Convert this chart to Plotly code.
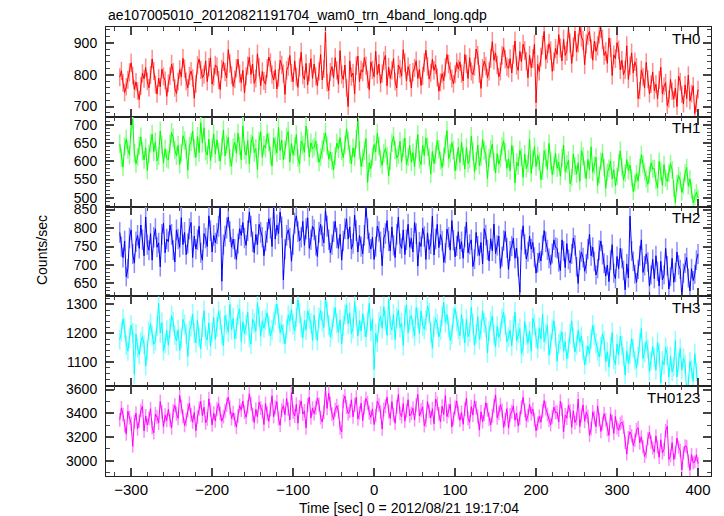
import numpy as np
import plotly.graph_objects as go
from plotly.subplots import make_subplots

TITLE = "ae107005010_20120821191704_wam0_trn_4band_long.qdp"
BANDS = ["TH0", "TH1", "TH2", "TH3", "TH0123"]
T_START, T_STOP = -314, 400

th0 = [792, 812, 774, 744, 762, 784, 807, 837, 797, 754, 777, 749, 722, 764, 804, 787, 822, 779, 759, 799, 849, 812, 769, 739, 789, 762, 817, 794, 782, 732,
       773, 796, 833, 808, 758, 741, 778, 816, 793, 851, 819, 779, 759, 796, 811, 789, 726, 771, 829, 849, 815, 790, 800, 843, 778, 823, 853, 770, 793, 830,
       825, 783, 753, 818, 840, 808, 790, 878, 835, 798, 763, 785, 820, 848, 803, 775, 813, 743, 795, 828, 855, 800, 833, 773, 788, 865, 823, 765, 810, 780,
       770, 820, 855, 838, 800, 783, 815, 755, 790, 845, 830, 803, 738, 813, 825, 860, 805, 778, 843, 793, 760, 823, 870, 798, 785, 835, 768, 808, 850, 788,
       833, 795, 765, 810, 863, 783, 818, 932, 775, 750, 808, 825, 790, 853, 813, 770, 875, 800, 785, 830, 758, 700, 843, 793, 805, 740, 828, 858, 778, 815,
       808, 853, 828, 785, 753, 840, 815, 793, 873, 800, 833, 773, 803, 843, 860, 765, 823, 788, 813, 850, 778, 758, 830, 818, 795, 878, 838, 780, 825, 805,
       758, 808, 821, 843, 788, 816, 766, 796, 838, 876, 826, 786, 806, 848, 813, 831, 791, 748, 776, 803, 781, 823, 863, 833, 811, 788, 771, 801, 838, 818,
       840, 803, 780, 863, 833, 788, 853, 810, 800, 825, 880, 860, 802, 757, 820, 842, 827, 790, 810, 850, 903, 845, 868, 830, 793, 810, 860, 885, 848, 825,
       820, 850, 805, 863, 905, 828, 813, 873, 840, 895, 875, 842, 790, 860, 822, 850, 895, 712, 832, 810, 855, 892, 935, 847, 865, 897, 875, 810, 840, 882,
       863, 925, 883, 843, 910, 860, 873, 945, 898, 835, 886, 936, 871, 898, 953, 918, 906, 831, 896, 923, 935, 880, 845, 905, 873, 890, 928, 945, 910, 860,
       872, 835, 915, 885, 797, 862, 850, 900, 877, 815, 845, 800, 815, 890, 785, 828, 868, 805, 840, 823, 725, 750, 815, 793, 758, 838, 785, 740, 770, 808,
       750, 770, 725, 783, 823, 740, 763, 775, 703, 723, 785, 748, 723, 758, 700, 795, 778, 738, 708, 768, 725, 798, 718, 740, 765, 678, 710, 753]

th1 = [648, 610, 584, 641, 661, 632, 617, 694, 716, 623, 593, 612, 643, 667, 628, 604, 637, 575, 621, 650, 674, 626, 654, 601, 615, 683, 645, 595, 634, 608,
       604, 648, 679, 664, 631, 615, 644, 591, 622, 670, 657, 633, 576, 642, 653, 683, 635, 611, 668, 624, 706, 650, 692, 628, 617, 661, 602, 637, 675, 620,
       659, 626, 600, 639, 686, 615, 646, 666, 609, 587, 637, 653, 622, 677, 642, 604, 697, 631, 617, 657, 593, 648, 668, 624, 635, 578, 655, 681, 611, 644,
       636, 675, 653, 616, 587, 664, 642, 623, 693, 629, 658, 605, 631, 667, 682, 598, 649, 618, 640, 673, 609, 592, 656, 645, 625, 697, 662, 612, 651, 634,
       639, 656, 623, 597, 612, 632, 652, 678, 643, 606, 626, 601, 577, 615, 650, 634, 665, 628, 610, 645, 689, 656, 619, 593, 637, 612, 661, 715, 630, 586,
       609, 629, 662, 542, 596, 580, 613, 646, 626, 677, 642, 607, 589, 622, 635, 615, 560, 600, 651, 668, 631, 609, 618, 655, 598, 637, 664, 591, 611, 644,
       598, 624, 585, 635, 673, 605, 591, 644, 616, 664, 640, 611, 565, 627, 594, 618, 657, 633, 602, 583, 613, 646, 684, 607, 622, 651, 631, 574, 600, 638,
       597, 652, 614, 579, 638, 594, 605, 669, 627, 572, 601, 645, 588, 612, 660, 630, 619, 553, 610, 634, 647, 599, 568, 621, 592, 608, 641, 656, 625, 581,
       607, 574, 644, 618, 541, 598, 587, 631, 611, 556, 620, 580, 594, 660, 567, 605, 640, 585, 616, 600, 550, 572, 629, 609, 578, 649, 602, 563, 589, 622,
       581, 598, 559, 609, 644, 572, 592, 603, 539, 556, 620, 587, 565, 596, 545, 629, 614, 578, 552, 605, 576, 640, 570, 589, 611, 534, 563, 600, 622, 583,
       526, 570, 581, 601, 552, 577, 533, 559, 596, 629, 585, 550, 568, 605, 574, 590, 555, 517, 541, 566, 546, 583, 618, 592, 572, 552, 537, 563, 596, 579,
       580, 547, 527, 600, 573, 534, 591, 554, 545, 567, 594, 577, 526, 486, 541, 561, 548, 515, 533, 568, 583, 532, 552, 519, 486, 502, 515, 500]

th2 = [788, 750, 720, 765, 668, 690, 773, 795, 730, 705, 763, 780, 745, 808, 768, 725, 830, 755, 740, 785, 713, 775, 798, 748, 760, 695, 783, 813, 733, 770,
       763, 808, 783, 740, 708, 795, 770, 748, 828, 755, 788, 728, 758, 798, 815, 720, 778, 743, 768, 805, 733, 713, 785, 773, 750, 833, 793, 735, 780, 760,
       785, 805, 860, 656, 755, 778, 800, 830, 790, 748, 770, 743, 715, 758, 798, 780, 815, 773, 753, 793, 843, 805, 763, 733, 783, 755, 810, 788, 775, 725,
       765, 788, 825, 800, 750, 855, 770, 808, 785, 843, 803, 660, 743, 780, 795, 773, 710, 755, 813, 833, 790, 765, 775, 818, 753, 798, 828, 745, 768, 805,
       795, 753, 723, 788, 810, 778, 760, 848, 805, 768, 733, 755, 790, 818, 773, 745, 783, 713, 765, 798, 825, 770, 803, 743, 758, 835, 793, 735, 780, 750,
       730, 780, 860, 798, 760, 743, 775, 715, 750, 805, 790, 763, 698, 773, 785, 820, 765, 738, 803, 753, 720, 783, 830, 758, 745, 795, 728, 768, 810, 748,
       772, 735, 815, 785, 697, 762, 750, 800, 777, 715, 787, 742, 757, 832, 727, 770, 810, 747, 782, 765, 707, 732, 797, 775, 740, 820, 767, 722, 752, 790,
       743, 763, 718, 776, 816, 733, 756, 768, 696, 716, 788, 751, 726, 761, 703, 798, 781, 741, 711, 771, 738, 811, 731, 753, 778, 691, 723, 766, 791, 746,
       688, 738, 751, 773, 718, 746, 696, 626, 768, 806, 756, 716, 736, 778, 743, 761, 721, 678, 706, 733, 711, 753, 793, 763, 741, 718, 701, 731, 768, 748,
       745, 708, 685, 768, 738, 693, 758, 715, 705, 730, 773, 753, 695, 650, 713, 735, 720, 683, 703, 743, 783, 725, 748, 710, 673, 690, 740, 765, 728, 705,
       670, 700, 655, 713, 755, 678, 663, 723, 690, 745, 718, 685, 633, 703, 665, 832, 738, 710, 675, 653, 688, 725, 768, 680, 698, 730, 708, 643, 673, 715,
       663, 725, 683, 643, 710, 660, 673, 745, 698, 635, 668, 718, 653, 680, 735, 700, 688, 613, 678, 705, 720, 665, 630, 690, 658, 675, 713, 730]

th3 = [1177, 1204, 1249, 1219, 1159, 1138, 1183, 1228, 1201, 1057, 1197, 1149, 1125, 1170, 1188, 1161, 1086, 1140, 1209, 1233, 1192, 1162, 1174, 1225, 1304, 1201, 1237, 1138, 1165, 1210,
       1158, 1218, 1260, 1239, 1194, 1173, 1212, 1140, 1182, 1248, 1230, 1197, 1119, 1209, 1224, 1266, 1200, 1167, 1245, 1185, 1146, 1221, 1278, 1191, 1176, 1236, 1155, 1203, 1254, 1179,
       1222, 1276, 1246, 1195, 1156, 1261, 1231, 1204, 1300, 1213, 1252, 1180, 1216, 1264, 1285, 1171, 1240, 1198, 1228, 1273, 1186, 1162, 1249, 1234, 1207, 1306, 1258, 1189, 1243, 1219,
       1247, 1271, 1226, 1190, 1211, 1238, 1265, 1301, 1253, 1202, 1229, 1196, 1163, 1214, 1262, 1241, 1283, 1232, 1208, 1256, 1316, 1271, 1220, 1184, 1244, 1211, 1277, 1250, 1235, 1175,
       1262, 1211, 1175, 1253, 1280, 1241, 1220, 1325, 1274, 1229, 1187, 1214, 1256, 1289, 1235, 1202, 1247, 1163, 1226, 1265, 1298, 1232, 1271, 1199, 1217, 1310, 1259, 1190, 1244, 1208,
       1268, 1223, 1187, 1241, 1304, 1208, 1250, 1074, 1199, 1169, 1238, 1259, 1217, 1292, 1244, 1193, 1319, 1229, 1211, 1265, 1178, 1253, 1280, 1220, 1235, 1157, 1262, 1298, 1202, 1247,
       1262, 1217, 1190, 1289, 1253, 1199, 1277, 1226, 1214, 1244, 1295, 1271, 1202, 1148, 1223, 1250, 1232, 1187, 1211, 1259, 1307, 1238, 1265, 1220, 1175, 1196, 1256, 1286, 1241, 1214,
       1191, 1266, 1215, 1167, 1248, 1188, 1203, 1290, 1233, 1158, 1197, 1257, 1179, 1212, 1278, 1236, 1221, 1131, 1209, 1242, 1260, 1194, 1152, 1224, 1185, 1206, 1251, 1272, 1230, 1170,
       1186, 1210, 1156, 1225, 1273, 1174, 1201, 1216, 1129, 1153, 1240, 1195, 1165, 1207, 1138, 1252, 1231, 1183, 1147, 1219, 1180, 1267, 1171, 1198, 1228, 1123, 1162, 1213, 1243, 1189,
       1102, 1162, 1177, 1204, 1138, 1171, 1111, 1147, 1198, 1243, 1183, 1135, 1159, 1210, 1168, 1189, 1141, 1090, 1123, 1156, 1129, 1180, 1228, 1192, 1165, 1138, 1117, 1153, 1198, 1174,
       1100, 1136, 1082, 1151, 1202, 1109, 1091, 1163, 1124, 1190, 1157, 1118, 1055, 1139, 1094, 1127, 1181, 1148, 1106, 1079, 1121, 1166, 1217, 1112, 1133, 1172, 1145, 1067, 1103, 1154,
       1117, 1072, 1168, 1132, 1027, 1105, 1090, 1150, 1123, 1048, 1120, 1066, 1084, 1174, 1048, 1099, 1147, 1072, 1114, 1093, 994, 1024, 1102, 1075, 1033, 1129, 1066, 1012]

th0123 = [3345, 3444, 3389, 3295, 3224, 3416, 3361, 3312, 3122, 3328, 3400, 3268, 3334, 3422, 3460, 3251, 3378, 3301, 3356, 3438, 3279, 3235, 3394, 3367, 3317, 3499, 3411, 3284, 3383, 3339,
          3434, 3341, 3275, 3418, 3467, 3396, 3357, 3550, 3456, 3374, 3297, 3346, 3423, 3484, 3385, 3324, 3407, 3253, 3368, 3440, 3500, 3379, 3451, 3319, 3352, 3522, 3429, 3302, 3401, 3335,
          3437, 3481, 3399, 3333, 3371, 3421, 3470, 3536, 3448, 3355, 3404, 3344, 3283, 3377, 3465, 3426, 3503, 3410, 3366, 3454, 3564, 3481, 3388, 3322, 3432, 3371, 3492, 3443, 3415, 3305,
          3481, 3398, 3332, 3431, 3547, 3371, 3448, 3497, 3354, 3299, 3426, 3464, 3387, 3525, 3437, 3343, 3574, 3409, 3376, 3475, 3316, 3453, 3503, 3393, 3420, 3277, 3470, 3536, 3360, 3442,
          3397, 3447, 3529, 3474, 3364, 3326, 3408, 3598, 3441, 3568, 3480, 3392, 3348, 3430, 3463, 3414, 3276, 3242, 3502, 3546, 3452, 3397, 3419, 3513, 3370, 3469, 3535, 3353, 3403, 3485,
          3338, 3448, 3525, 3487, 3404, 3366, 3437, 3305, 3382, 3503, 3470, 3410, 3267, 3432, 3459, 3536, 3415, 3355, 3498, 3388, 3316, 3454, 3558, 3399, 3371, 3481, 3333, 3421, 3514, 3377,
          3399, 3443, 3344, 3471, 3559, 3377, 3427, 3454, 3295, 3339, 3498, 3416, 3361, 3438, 3311, 3520, 3482, 3394, 3328, 3460, 3388, 3548, 3372, 3421, 3476, 3284, 3355, 3449, 3504, 3405,
          3340, 3406, 3307, 3434, 3527, 3357, 3324, 3456, 3384, 3505, 3445, 3373, 3258, 3412, 3329, 3390, 3489, 3428, 3351, 3302, 3379, 3461, 3555, 3362, 3401, 3472, 3423, 3280, 3346, 3439,
          3275, 3385, 3413, 3462, 3341, 3402, 3292, 3358, 3451, 3534, 3424, 3336, 3380, 3473, 3396, 3435, 3347, 3253, 3314, 3374, 3325, 3418, 3506, 3440, 3391, 3341, 3303, 3369, 3451, 3407,
          3407, 3325, 3501, 3435, 3242, 3385, 3358, 3468, 3418, 3281, 3420, 3321, 3354, 3519, 3288, 3382, 3470, 3332, 3409, 3371, 3214, 3269, 3412, 3363, 3286, 3462, 3346, 3247, 3313, 3396,
          3345, 3263, 3213, 3395, 3329, 3230, 3373, 3279, 3257, 3312, 3326, 3282, 3155, 3056, 3194, 3243, 3210, 3128, 3172, 3260, 3278, 3151, 3201, 3118, 3036, 3074, 3184, 3239, 3157, 3107,
          3072, 3209, 3116, 3028, 3176, 3066, 3094, 3253, 3290, 3011, 3043, 3153, 3010, 3070, 3191, 3114, 3087, 2922, 3065, 3125, 3118, 2997, 2920, 3052, 2981, 2990, 3050, 2975]

series = [th0, th1, th2, th3, th0123]
line_colors = ["#ff0000", "#00ff00", "#0000ff", "#00ffff", "#ff00ff"]
err_colors = ["#ff8c8c", "#8cff8c", "#8c8cff", "#8cffff", "#ff8cff"]
y_ranges = [[668, 949], [476, 722], [615, 858], [1016, 1328], [2871, 3628]]
y_major = [100, 50, 50, 100, 200]
y_minor = [20, 10, 10, 20, 100]
y_tick0 = [700, 500, 650, 1100, 3000]

FONT = "Liberation Sans, Arial, Helvetica, sans-serif"

fig = make_subplots(rows=5, cols=1, shared_xaxes=True, vertical_spacing=0)

for i, y in enumerate(series):
    y = np.array(y, dtype=float)
    t = np.linspace(T_START, T_STOP, len(y))
    err = np.sqrt(y)
    fig.add_trace(go.Scatter(x=t, y=y, mode="markers", marker=dict(size=0.1, color=err_colors[i], opacity=0),
                             error_y=dict(type="data", array=err, color=err_colors[i], thickness=1.5, width=0),
                             hoverinfo="skip", showlegend=False), row=i + 1, col=1)
    fig.add_trace(go.Scatter(x=t, y=y, mode="lines", line=dict(color=line_colors[i], width=1),
                             showlegend=False), row=i + 1, col=1)

axis_common = dict(showline=True, linecolor="#222", linewidth=1, mirror="allticks",
                   ticks="inside", tickcolor="#444", tickwidth=1.5, showgrid=False, zeroline=False)

for i in range(5):
    fig.update_yaxes(range=y_ranges[i], tick0=y_tick0[i], dtick=y_major[i], ticklen=8,
                     minor=dict(ticks="inside", dtick=y_minor[i], tick0=y_tick0[i], ticklen=4,
                                tickcolor="#444", tickwidth=1, showgrid=False),
                     tickfont=dict(family=FONT, size=14, color="black"),
                     ticklabelstandoff=5, **axis_common, row=i + 1, col=1)
    fig.update_xaxes(range=[-331, 416], tick0=0, dtick=100, ticklen=8,
                     minor=dict(ticks="inside", dtick=20, ticklen=4, tickcolor="#444", tickwidth=1, showgrid=False),
                     tickfont=dict(family=FONT, size=15, color="black"),
                     **axis_common, row=i + 1, col=1)
    fig.add_annotation(text=BANDS[i], xref="paper", yref=f"y{'' if i == 0 else i + 1} domain",
                       x=0.985, y=0.877, xanchor="right", yanchor="middle", showarrow=False,
                       font=dict(family=FONT, size=15, color="black"))

fig.update_xaxes(showticklabels=True, row=5, col=1)

fig.add_annotation(text=TITLE, xref="paper", yref="paper", x=0, y=1.0, xanchor="left", yanchor="bottom",
                   yshift=2, showarrow=False, font=dict(family=FONT, size=14, color="black"))
fig.add_annotation(text="Counts/sec", xref="paper", yref="paper", x=-0.106, y=0.503, textangle=-90,
                   xanchor="center", yanchor="middle", showarrow=False, font=dict(family=FONT, size=14, color="black"))
fig.add_annotation(text="Time [sec] 0 = 2012/08/21 19:17:04", xref="paper", yref="paper", x=0.5, y=-0.071,
                   xanchor="center", yanchor="middle", showarrow=False, font=dict(family=FONT, size=14, color="black"))

# the page body keeps its default 8 px margin, so the figure is sized to fit the 724x516 window
fig.update_layout(width=716, height=508, margin=dict(l=98, r=13, t=19, b=40),
                  paper_bgcolor="white", plot_bgcolor="white", showlegend=False)

fig.write_html("out.html")
